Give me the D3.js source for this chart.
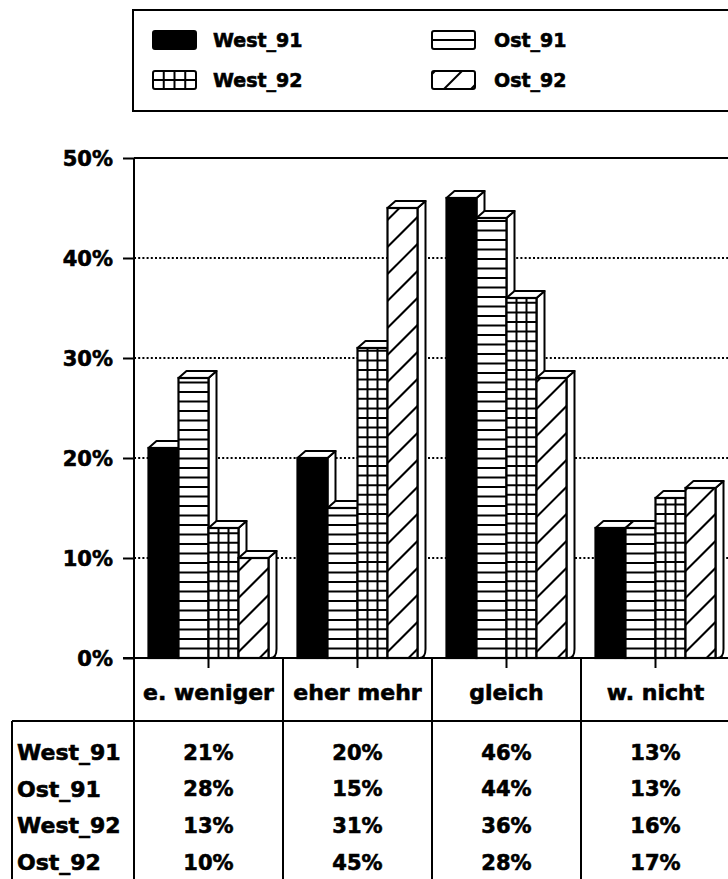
<!DOCTYPE html>
<html>
<head>
<meta charset="utf-8">
<script src="https://cdn.jsdelivr.net/npm/d3@7"></script>
<style>
  body { margin: 0; background: #fff; }
  svg { display: block; }
  text { font-family: "DejaVu Sans", sans-serif; font-weight: bold; fill: #000; stroke: #000; stroke-width: 0.6px; }
</style>
</head>
<body>
<svg id="chart" width="728" height="879"></svg>
<script>
// Survey answers by category, in percent
const categories = ["e. weniger", "eher mehr", "gleich", "w. nicht"];
const seriesNames = ["West_91", "Ost_91", "West_92", "Ost_92"];
const west91 = [21, 20, 46, 13];
const ost91 = [28, 15, 44, 13];
const west92 = [13, 31, 36, 16];
const ost92 = [10, 45, 28, 17];
const yTicks = [0, 10, 20, 30, 40, 50];

const seriesValues = [west91, ost91, west92, ost92];
const fillKinds = ["solid", "horizontal", "grid", "diagonal"];

const W = 728, H = 879;
const svg = d3.select("#chart");
const defs = svg.append("defs");

// Plot geometry
const axisX = 134;
const x = d3.scaleBand().domain(categories).range([axisX, 730]);
const barsSpan = 120;
const inner = d3.scaleBand().domain(seriesNames).range([0, barsSpan]);
const innerOffset = (x.bandwidth() - barsSpan) / 2;
const y = d3.scaleLinear().domain([0, 50]).range([658, 158]);
const base = y(0);
const depthX = 8, depthY = 7;

// Gridlines: dotted for inner ticks, solid at the top
svg.append("g").selectAll("line")
  .data(yTicks.filter(d => d > 0 && d < 50))
  .join("line")
  .attr("x1", axisX).attr("x2", W)
  .attr("y1", d => y(d)).attr("y2", d => y(d))
  .attr("stroke", "#000").attr("stroke-width", 2)
  .attr("stroke-dasharray", "2,2.2");

svg.append("line")
  .attr("x1", axisX).attr("x2", W)
  .attr("y1", y(50)).attr("y2", y(50))
  .attr("stroke", "#000").attr("stroke-width", 2);

// Y axis with percent labels
const yAxis = svg.append("g")
  .attr("transform", `translate(${axisX},0)`)
  .call(d3.axisLeft(y).tickValues(yTicks).tickFormat(d => d + "%").tickSize(11).tickPadding(10));
yAxis.select(".domain").remove();
yAxis.selectAll(".tick line").attr("stroke", "#000").attr("stroke-width", 2);
yAxis.selectAll(".tick text")
  .style("font-size", "21px").attr("dy", "0.36em");

// Hatch drawing inside a clipped rectangle
let clipId = 0;
function hatch(parent, kind, x0, y0, w, h, opts) {
  if (kind === "solid") return;
  const id = "clip" + (clipId++);
  defs.append("clipPath").attr("id", id)
    .append("rect").attr("x", x0).attr("y", y0).attr("width", w).attr("height", h);
  const g = parent.append("g").attr("clip-path", `url(#${id})`)
    .attr("stroke", "#000").attr("stroke-width", opts.lw);
  const bottom = y0 + h;
  if (kind === "horizontal" || kind === "grid") {
    const rows = d3.range(bottom - opts.rowStep, y0 + 0.5, -opts.rowStep);
    g.selectAll("line.h").data(rows).join("line").attr("class", "h")
      .attr("x1", x0).attr("x2", x0 + w).attr("y1", d => d).attr("y2", d => d);
  }
  if (kind === "grid") {
    const cols = d3.range(1, opts.cols).map(i => x0 + i * w / opts.cols);
    g.selectAll("line.v").data(cols).join("line").attr("class", "v")
      .attr("x1", d => d).attr("x2", d => d).attr("y1", y0).attr("y2", bottom);
  }
  if (kind === "diagonal") {
    const step = opts.diagStep;
    const starts = d3.range(-Math.ceil(w / step) - 1, Math.ceil(h / step) + 2)
      .map(k => bottom - opts.diagOffset - k * step);
    const L = w + h + step;
    g.selectAll("line.d").data(starts).join("line").attr("class", "d")
      .attr("x1", x0).attr("y1", d => d)
      .attr("x2", x0 + L).attr("y2", d => d - L);
  }
}

// 3D bars: side face, top face, then front face with its fill
const barLayer = svg.append("g");
categories.forEach((cat, ci) => {
  seriesNames.forEach((s, si) => {
    const v = seriesValues[si][ci];
    const x0 = x(cat) + innerOffset + inner(s);
    const w = inner.bandwidth();
    const top = y(v);
    const g = barLayer.append("g");
    g.append("path")
      .attr("d", `M${x0 + w},${base} L${x0 + w},${top} L${x0 + w + depthX},${top - depthY} L${x0 + w + depthX},${base - depthY - 2} Q${x0 + w + depthX},${base} ${x0 + w + 2},${base} Z`)
      .attr("fill", "#fff").attr("stroke", "#000").attr("stroke-width", 2).attr("stroke-linejoin", "round");
    g.append("path")
      .attr("d", `M${x0},${top} L${x0 + depthX},${top - depthY} L${x0 + w + depthX},${top - depthY} L${x0 + w},${top} Z`)
      .attr("fill", "#fff").attr("stroke", "#000").attr("stroke-width", 2).attr("stroke-linejoin", "round");
    g.append("rect")
      .attr("x", x0).attr("y", top).attr("width", w).attr("height", base - top)
      .attr("fill", fillKinds[si] === "solid" ? "#000" : "#fff");
    hatch(g, fillKinds[si], x0, top, w, base - top,
      { lw: 2, rowStep: fillKinds[si] === "grid" ? 9.6 : 9.5, cols: 3, diagStep: 27, diagOffset: 6 });
    g.append("rect")
      .attr("x", x0).attr("y", top).attr("width", w).attr("height", base - top)
      .attr("fill", "none").attr("stroke", "#000").attr("stroke-width", 2.2);
  });
});

// Baseline and category ticks
svg.append("line")
  .attr("x1", 123).attr("x2", W).attr("y1", base).attr("y2", base)
  .attr("stroke", "#000").attr("stroke-width", 2);

const xAxis = svg.append("g")
  .attr("transform", `translate(0,${base})`)
  .call(d3.axisBottom(x).tickSize(10).tickFormat(""));
xAxis.select(".domain").remove();
xAxis.selectAll(".tick line").attr("stroke", "#000").attr("stroke-width", 2);

// Vertical axis line, continuing down as the table's first column rule
svg.append("line")
  .attr("x1", axisX).attr("x2", axisX).attr("y1", y(50)).attr("y2", H)
  .attr("stroke", "#000").attr("stroke-width", 2);

// Column rules between categories
svg.append("g").selectAll("line")
  .data(categories.slice(1))
  .join("line")
  .attr("x1", d => x(d)).attr("x2", d => x(d))
  .attr("y1", base).attr("y2", H)
  .attr("stroke", "#000").attr("stroke-width", 2);

// Category labels
svg.append("g").selectAll("text")
  .data(categories)
  .join("text")
  .attr("x", d => x(d) + x.bandwidth() / 2)
  .attr("y", 692).attr("dy", "0.36em")
  .attr("text-anchor", "middle")
  .style("font-size", "22px")
  .text(d => d);

// Data table under the chart
const tableTop = 721;
svg.append("line")
  .attr("x1", 12).attr("x2", W).attr("y1", tableTop).attr("y2", tableTop)
  .attr("stroke", "#000").attr("stroke-width", 2);
svg.append("line")
  .attr("x1", 12).attr("x2", 12).attr("y1", tableTop).attr("y2", H)
  .attr("stroke", "#000").attr("stroke-width", 2);

const rowY = d3.scalePoint().domain(seriesNames).range([752, 862]);
svg.append("g").selectAll("text")
  .data(seriesNames)
  .join("text")
  .attr("x", 17).attr("y", d => rowY(d)).attr("dy", "0.36em")
  .style("font-size", "22px")
  .text(d => d);

const cells = [];
seriesNames.forEach((s, si) => categories.forEach((c, ci) => cells.push({ s, c, v: seriesValues[si][ci] })));
svg.append("g").selectAll("text")
  .data(cells)
  .join("text")
  .attr("x", d => x(d.c) + x.bandwidth() / 2)
  .attr("y", d => rowY(d.s)).attr("dy", "0.36em")
  .attr("text-anchor", "middle")
  .style("font-size", "21px")
  .text(d => d.v + "%");

// Legend
const legend = svg.append("g");
legend.append("rect")
  .attr("x", 133).attr("y", 10).attr("width", 620).attr("height", 101)
  .attr("fill", "none").attr("stroke", "#000").attr("stroke-width", 2);

const legendPos = d3.scaleOrdinal().domain(seriesNames)
  .range([[153, 40], [432, 40], [153, 80], [432, 80]]);
const swW = 43, swH = 18;
seriesNames.forEach((s, si) => {
  const [lx, ly] = legendPos(s);
  const g = legend.append("g");
  g.append("rect").attr("x", lx).attr("y", ly - swH / 2).attr("width", swW).attr("height", swH)
    .attr("fill", fillKinds[si] === "solid" ? "#000" : "#fff");
  hatch(g, fillKinds[si], lx, ly - swH / 2, swW, swH,
    { lw: 2, rowStep: swH / 2, cols: 4, diagStep: 27, diagOffset: -12 });
  g.append("rect").attr("x", lx).attr("y", ly - swH / 2).attr("width", swW).attr("height", swH)
    .attr("rx", 2).attr("fill", "none").attr("stroke", "#000").attr("stroke-width", 2);
  g.append("text")
    .attr("x", lx + (si % 2 === 0 ? 60 : 62)).attr("y", ly).attr("dy", "0.36em")
    .style("font-size", "19px")
    .text(s);
});
</script>
</body>
</html>
